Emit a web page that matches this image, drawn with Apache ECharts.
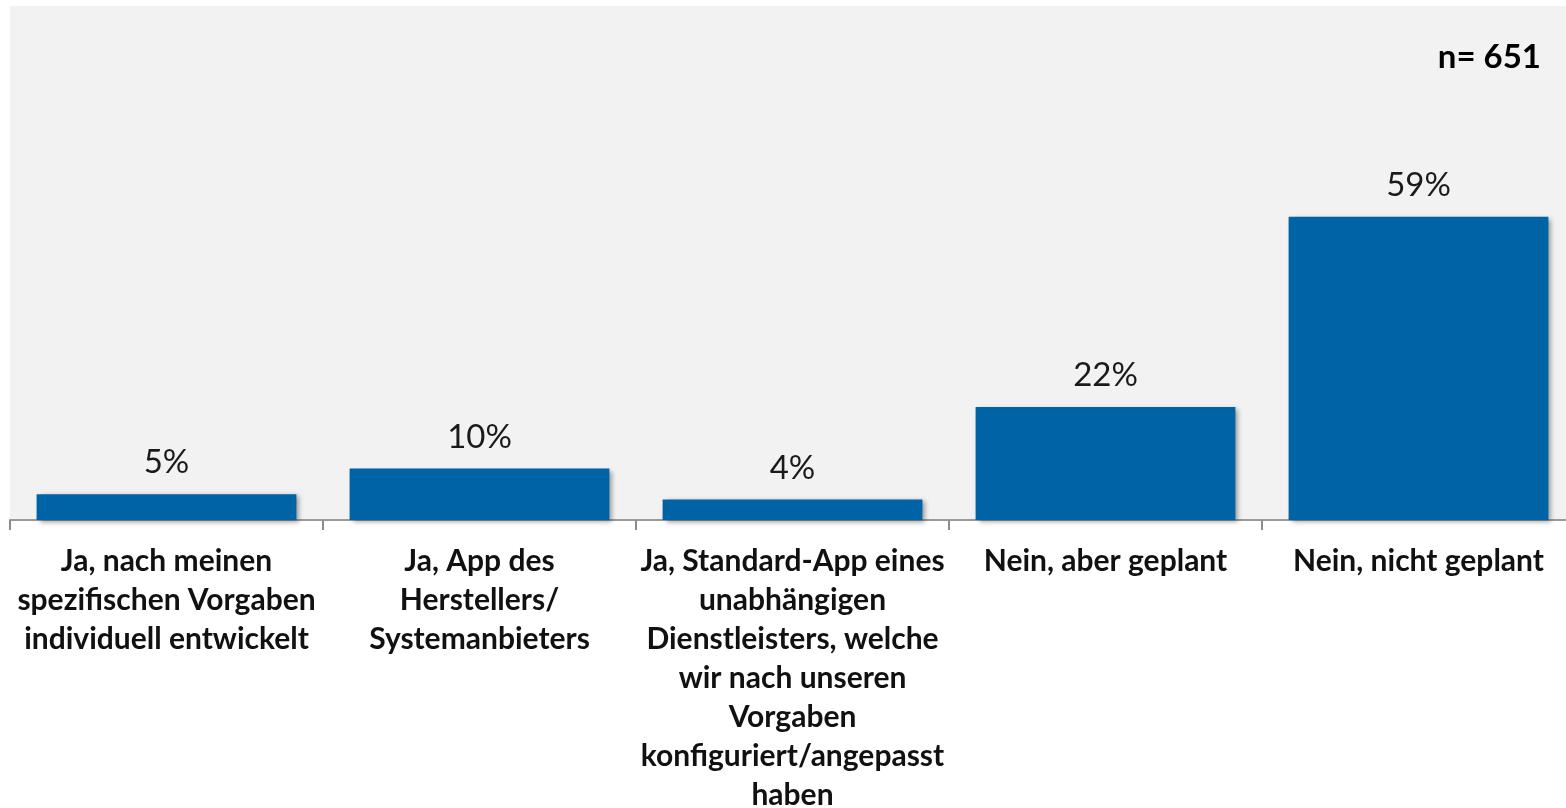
<!DOCTYPE html>
<html>
<head>
<meta charset="UTF-8">
<title>Echarts</title>
<script src="https://cdn.jsdelivr.net/npm/echarts@6/dist/echarts.min.js"></script>
</head>
<body style="margin:0;background:#fff;">
	<div id="main" style="width:1566px;height:808px;"></div>
	<script type="text/javascript">
		// Kategorien (Zeilenumbrüche wie im Original)
		var categories = [
			'Ja, nach meinen\nspezifischen Vorgaben\nindividuell entwickelt',
			'Ja, App des\nHerstellers/\nSystemanbieters',
			'Ja, Standard-App eines\nunabhängigen\nDienstleisters, welche\nwir nach unseren\nVorgaben\nkonfiguriert/angepasst\nhaben',
			'Nein, aber geplant',
			'Nein, nicht geplant'
		];
		// Anteile in Prozent
		var values = [5, 10, 4, 22, 59];
		var sampleLabel = 'n= 651';

		var myChart = echarts.init(document.getElementById('main'));
		var option = {
			animation: false,
			title: {
				text: sampleLabel,
				right: 20,
				top: 36,
				textStyle: {
					fontFamily: 'Lato',
					fontWeight: 'bold',
					fontSize: 33,
					color: '#000'
				}
			},
			grid: {
				left: 10,
				width: 1565,
				top: 6,
				height: 514,
				outerBoundsMode: 'none',
				containLabel: false,
				show: true,
				backgroundColor: '#f2f2f2',
				borderWidth: 0
			},
			xAxis: {
				type: 'category',
				data: categories,
				axisLine: {lineStyle: {color: '#9a9a9a', width: 2}},
				axisTick: {show: true, length: 10, lineStyle: {color: '#8c8c8c', width: 2}},
				axisLabel: {
					interval: 0,
					margin: 22,
					fontFamily: 'Lato',
					fontWeight: 'bold',
					fontSize: 30,
					lineHeight: 39,
					color: '#111'
				}
			},
			yAxis: {
				type: 'value',
				min: 0,
				max: 100,
				show: false
			},
			series: [
				{
					type: 'bar',
					data: values,
					barCategoryGap: '17%',
					itemStyle: {
						color: '#0063a6',
						shadowColor: 'rgba(0,0,0,0.4)',
						shadowBlur: 5,
						shadowOffsetX: 3,
						shadowOffsetY: 2
					},
					label: {
						show: true,
						position: 'top',
						distance: 15,
						formatter: '{c}%',
						fontFamily: 'Lato',
						fontSize: 33,
						color: '#1a1a1a'
					}
				}
			]
		};
		myChart.setOption(option);
	</script>
</body>
</html>
